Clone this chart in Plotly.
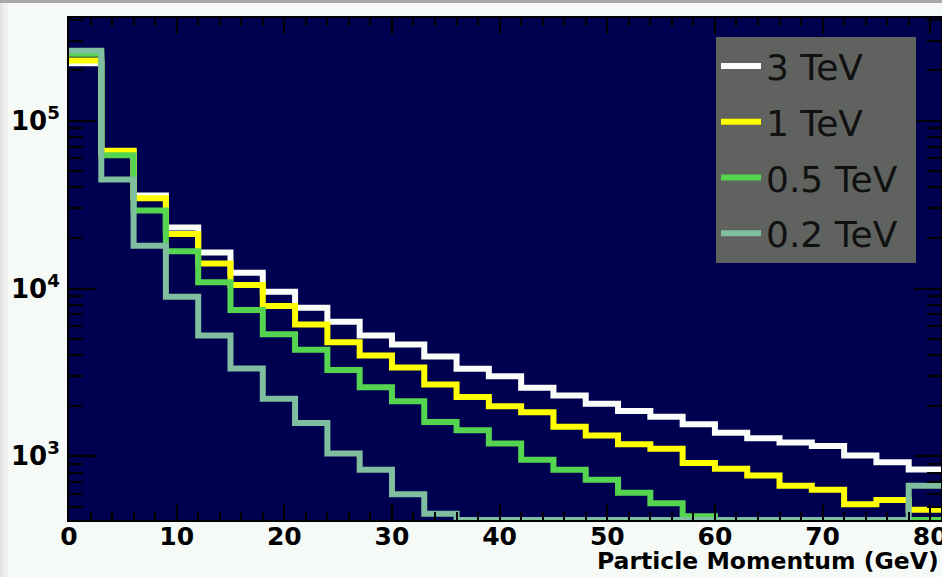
import numpy as np
import plotly.graph_objects as go

# Histogram binning: 27 bins of 3 GeV from 0 to 81 GeV
bin_edges = list(range(0, 82, 3))

series_names = ["3 TeV", "1 TeV", "0.5 TeV", "0.2 TeV"]
series_colors = ["#fafdfa", "#ffff00", "#55d54f", "#7fbf9f"]

# Entries per bin (last bin includes overflow)
counts_3tev = [220000, 65000, 35800, 23100, 16400, 12400, 9570, 7690, 6340,
               5250, 4630, 3940, 3320, 3000, 2560, 2300, 2060, 1860, 1720,
               1550, 1380, 1280, 1210, 1150, 1010, 922, 833]
counts_1tev = [228500, 66300, 34500, 21100, 14100, 10500, 7870, 6100, 4790,
               3990, 3380, 2680, 2260, 1990, 1830, 1500, 1330, 1180, 1110,
               912, 842, 769, 667, 632, 518, 549, 481]
counts_05tev = [250800, 62200, 29200, 16700, 10900, 7450, 5340, 4320, 3270,
                2580, 2130, 1600, 1430, 1190, 954, 832, 725, 607, 525,
                439, 380, 330, 290, 250, 220, 190, 300]
counts_02tev = [261400, 44600, 17970, 8920, 5250, 3340, 2200, 1580, 1040,
                832, 594, 454, 350, 290, 240, 200, 170, 140, 120,
                100, 85, 70, 60, 50, 45, 40, 667]

all_counts = [counts_3tev, counts_1tev, counts_05tev, counts_02tev]

# Axis ranges (log10 for y)
X_RANGE = [0, 81]
LOG_Y_RANGE = [2.6204, 5.612]
Y_FLOOR = 10 ** LOG_Y_RANGE[0]

# Plot-area geometry in pixels
FIG_W, FIG_H = 942, 577
M_L, M_R, M_T, M_B = 69, 1, 18, 57
PLOT_W = FIG_W - M_L - M_R
PLOT_H = FIG_H - M_T - M_B


def paper_x(px):
    return (px - M_L) / PLOT_W


def paper_y(py):
    return (FIG_H - M_B - py) / PLOT_H


fig = go.Figure()
for name, color, counts in zip(series_names, series_colors, all_counts):
    # Bins below the axis floor sit on the bottom edge, as in a ROOT histogram
    shown = np.maximum(np.array(counts, dtype=float), Y_FLOOR)
    y_steps = list(shown) + [shown[-1]]
    fig.add_trace(go.Scatter(
        x=bin_edges, y=y_steps, mode="lines", name=name,
        line=dict(shape="hv", color=color, width=6),
        legendgroup=name, hoverinfo="skip",
    ))

decades = [1e3, 1e4, 1e5]
decade_labels = ["10<sup>3</sup>", "10<sup>4</sup>", "10<sup>5</sup>"]
minor_vals = [k * 10 ** d for d in range(2, 6) for k in range(2, 10)]

axis_font = dict(family="DejaVu Sans", size=25, color="black", weight="bold")

fig.update_layout(
    width=FIG_W, height=FIG_H,
    margin=dict(l=M_L, r=M_R, t=M_T, b=M_B, pad=0, autoexpand=False),
    paper_bgcolor="#f6faf7",
    plot_bgcolor="#000050",
    showlegend=True,
    legend=dict(
        x=paper_x(716), y=paper_y(36), xanchor="left", yanchor="top",
        bgcolor="rgba(0,0,0,0)", borderwidth=0,
        font=dict(family="DejaVu Sans", size=36, color="#111111"),
        traceorder="grouped", tracegroupgap=6, itemwidth=40,
    ),
    xaxis=dict(
        range=X_RANGE, showgrid=False, zeroline=False, automargin=False,
        showline=True, linecolor="black", linewidth=2, mirror="ticks",
        ticks="inside", ticklen=16, tickwidth=2, tickcolor="black",
        tick0=0, dtick=10, tickfont=axis_font,
        ticklabeloverflow="allow", ticklabelstandoff=-7,
        minor=dict(ticks="inside", ticklen=8, tickwidth=2, tickcolor="black",
                   tick0=0, dtick=2, showgrid=False),
    ),
    yaxis=dict(
        type="log", range=LOG_Y_RANGE, showgrid=False, zeroline=False,
        automargin=False,
        showline=True, linecolor="black", linewidth=2, mirror="ticks",
        ticks="inside", ticklen=27, tickwidth=2, tickcolor="black",
        tickmode="array", tickvals=decades, ticktext=decade_labels,
        tickfont=dict(family="DejaVu Sans", size=26, color="black", weight="bold"),
        ticklabelstandoff=2,
        minor=dict(ticks="inside", ticklen=14, tickwidth=2, tickcolor="black",
                   tickmode="array", tickvals=minor_vals, showgrid=False),
    ),
    annotations=[dict(
        text="Particle Momentum (GeV)", xref="paper", yref="paper",
        x=1, y=paper_y(561), xanchor="right", yanchor="middle",
        showarrow=False,
        font=dict(family="DejaVu Sans", size=23.5, color="black", weight="bold"),
    )],
    shapes=[
        # legend panel
        dict(type="rect", xref="paper", yref="paper", layer="above",
             x0=paper_x(716), x1=paper_x(916), y0=paper_y(263), y1=paper_y(37),
             fillcolor="#5f625f", line=dict(width=0)),
        # window edge shading
        dict(type="rect", xref="paper", yref="paper", layer="below",
             x0=paper_x(0), x1=paper_x(FIG_W), y0=paper_y(3), y1=paper_y(0),
             fillcolor="#a9a9a9", line=dict(width=0)),
        dict(type="rect", xref="paper", yref="paper", layer="below",
             x0=paper_x(0), x1=paper_x(3), y0=paper_y(FIG_H), y1=paper_y(3),
             fillcolor="#e2e4e4", line=dict(width=0)),
        dict(type="rect", xref="paper", yref="paper", layer="below",
             x0=paper_x(3), x1=paper_x(8), y0=paper_y(FIG_H), y1=paper_y(3),
             fillcolor="#eef1f0", line=dict(width=0)),
    ],
)

fig.write_html("out.html")
